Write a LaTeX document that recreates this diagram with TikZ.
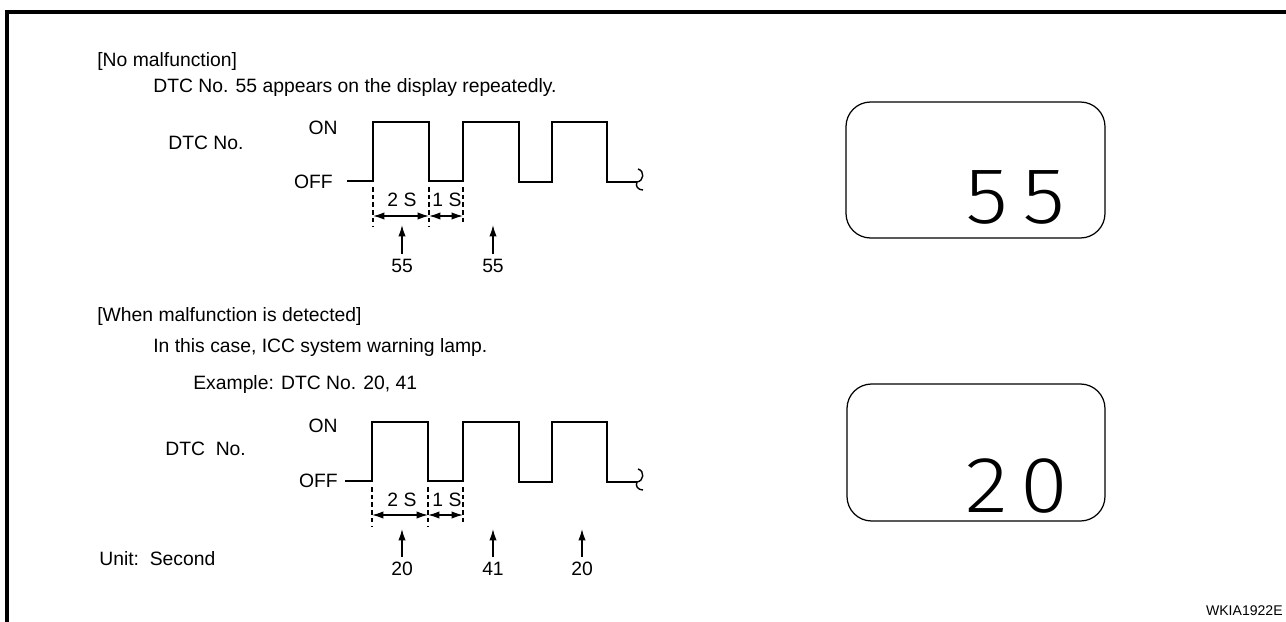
\documentclass[tikz,border=0pt]{standalone}
\usepackage{fontspec}
\setmainfont{Liberation Sans}
\newfontfamily\lcdfont[UprightFont=* Light, Numbers=Monospaced]{Fira Sans}
\usetikzlibrary{arrows.meta, positioning}

\begin{document}
\begin{tikzpicture}[
    x=0.02cm, y=-0.02cm,
    every node/.style={font=\fontsize{11}{13}\selectfont, inner sep=0pt},
    txt/.style={anchor=west},
    wave/.style={draw, line width=0.9pt},
    tick/.style={draw, line width=0.6pt, dash pattern=on 2.6pt off 1.8pt},
    span/.style={draw, {Latex[length=6.5pt,width=4.2pt]}-{Latex[length=6.5pt,width=4.2pt]}, line width=0.8pt},
    pointer/.style={draw, -{Latex[length=6.5pt,width=4.2pt]}, line width=0.8pt, shorten <=3pt},
    lcd/.style={draw, rounded corners=14pt, line width=0.7pt},
    lcdnum/.style={font=\lcdfont\fontsize{44}{44}\selectfont, anchor=base east, xscale=1.1, transform shape}
]
    \useasboundingbox (0,0) rectangle (1286,622);
    % Frame
    \draw[line width=2.2pt] (7,622) -- (7,12) -- (1286,12);

    % Upper part: no malfunction
    \node (title1) [txt] at (97,62) {[No malfunction]};
    \node (note1) [txt] at (153,88) {DTC No. 55 appears on the display repeatedly.};
    \node (dtc1) [txt] at (168,143) {DTC No.};
    \node (on1) at (323,128) {ON};
    \node (off1) [anchor=east] at (333,182) {OFF};

    \coordinate (start1) at (347,181);
    \coordinate (end1) at (637,182);
    \draw[wave] (start1) -- (373,181) -- (373,122) -- (429,122) -- (429,181) -- (463,181) -- (463,122)
        -- (519,122) -- (519,182) -- (552,182) -- (552,122) -- (607,122) -- (607,182) -- (end1);
    \draw[line width=0.8pt] (638,169) .. controls (645,171) and (644,181) .. (end1)
        .. controls (635,186) and (638,190) .. (643,190);

    \draw[tick] (373,187) -- (373,227);
    \draw[tick] (429,187) -- (429,227);
    \draw[tick] (463,187) -- (463,225);
    \node (two1) at (402,200) {2 S};
    \node (one1) at (447,200) {1 S};
    \coordinate (a1) at (373,216);
    \coordinate (b1) at (429,216);
    \coordinate (c1) at (463,216);
    \draw[span] (a1) -- (b1);
    \draw[span] (b1) -- (c1);

    \node (code1a) at (402,266) {55};
    \node (code1b) at (493,266) {55};
    \coordinate (p1a) at (402,225);
    \coordinate (p1b) at (493,225);
    \draw[pointer] (code1a) -- (p1a);
    \draw[pointer] (code1b) -- (p1b);

    \draw[lcd] (846,102) rectangle (1105,238);
    \node (disp1) [lcdnum] at (1069,223) {5\kern 5.3pt 5};

    % Lower part: malfunction detected
    \node (title2) [txt] at (97,317) {[When malfunction is detected]};
    \node (note2) [txt] at (153,348) {In this case, ICC system warning lamp.};
    \node (ex2) [txt] at (193,385) {Example: DTC No. 20, 41};
    \node (dtc2) [txt] at (165,449) {DTC\ \ No.};
    \node (on2) at (323,426) {ON};
    \node (off2) [anchor=east] at (338,481) {OFF};
    \node (unit) [txt] at (99,559) {Unit:\ \ Second};

    \coordinate (start2) at (345,481);
    \coordinate (end2) at (637,482);
    \draw[wave] (start2) -- (372,481) -- (372,422) -- (428,422) -- (428,481) -- (463,481) -- (463,422)
        -- (519,422) -- (519,482) -- (552,482) -- (552,422) -- (607,422) -- (607,482) -- (end2);
    \draw[line width=0.8pt] (638,469) .. controls (645,471) and (644,481) .. (end2)
        .. controls (635,486) and (638,490) .. (643,490);

    \draw[tick] (372,487) -- (372,527);
    \draw[tick] (428,487) -- (428,527);
    \draw[tick] (463,487) -- (463,525);
    \node (two2) at (402,500) {2 S};
    \node (one2) at (447,500) {1 S};
    \coordinate (a2) at (372,515);
    \coordinate (b2) at (428,515);
    \coordinate (c2) at (463,515);
    \draw[span] (a2) -- (b2);
    \draw[span] (b2) -- (c2);

    \node (code2a) at (402,569) {20};
    \node (code2b) at (493,569) {41};
    \node (code2c) at (582,569) {20};
    \coordinate (p2a) at (402,529);
    \coordinate (p2b) at (493,529);
    \coordinate (p2c) at (582,529);
    \draw[pointer] (code2a) -- (p2a);
    \draw[pointer] (code2b) -- (p2b);
    \draw[pointer] (code2c) -- (p2c);

    \draw[lcd] (847,384) rectangle (1105,521);
    \node (disp2) [lcdnum] at (1069,512) {2\kern 5.3pt 0};

    \node (fig) [anchor=east, font=\fontsize{8}{10}\selectfont] at (1283,611) {WKIA1922E};
\end{tikzpicture}
\end{document}
